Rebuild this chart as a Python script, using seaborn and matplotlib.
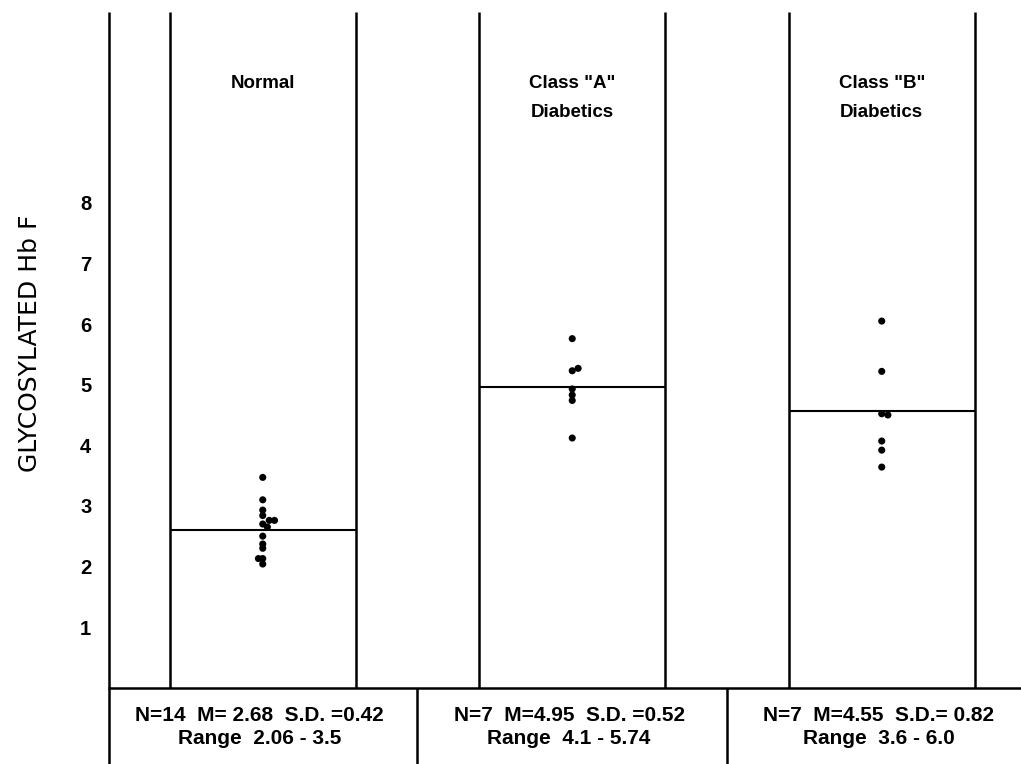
import numpy as np
import pandas as pd
import seaborn as sns
import matplotlib.pyplot as plt

# values
groups = ['Normal', 'Class "A"\nDiabetics', 'Class "B"\nDiabetics']
normal_vals = [3.47, 3.10, 2.93, 2.84, 2.76, 2.76, 2.70, 2.65, 2.50, 2.37, 2.30, 2.13, 2.13, 2.04]
normal_dx = [0, 0, 0, 0, 0.021, 0.038, 0, 0.015, 0, 0, 0, -0.014, 0, 0]
class_a_vals = [5.76, 5.23, 5.27, 4.93, 4.83, 4.74, 4.12]
class_a_dx = [0, 0, 0.019, 0, 0, 0, 0]
class_b_vals = [6.05, 5.22, 4.52, 4.50, 4.07, 3.92, 3.64]
class_b_dx = [0, 0, 0, 0.02, 0, 0, 0]
mean_lines = [2.60, 4.97, 4.57]
stats_text = ['N=14  M= 2.68  S.D. =0.42\nRange  2.06 - 3.5',
              'N=7  M=4.95  S.D. =0.52\nRange  4.1 - 5.74',
              'N=7  M=4.55  S.D.= 0.82\nRange  3.6 - 6.0']
yticks = [1, 2, 3, 4, 5, 6, 7, 8]

rows = []
for i, (vals, dx) in enumerate([(normal_vals, normal_dx),
                                 (class_a_vals, class_a_dx),
                                 (class_b_vals, class_b_dx)]):
    for v, d in zip(vals, dx):
        rows.append({'group': i, 'xpos': i + d, 'value': v})
df = pd.DataFrame(rows)

sns.set_style("white")
plt.rcParams['font.family'] = ['Liberation Sans', 'DejaVu Sans']
plt.rcParams['text.color'] = 'black'
plt.rcParams['ytick.color'] = 'black'

fig = plt.figure(figsize=(10.21, 7.64), dpi=100)
ax = fig.add_axes([108 / 1021, 0, 913 / 1021, 1])
ax.set_xlim(-0.5, 2.45)
ax.set_ylim(-1.261, 11.35)
for s in ax.spines.values():
    s.set_visible(False)

sns.scatterplot(data=df, x='xpos', y='value', color='black', s=26,
                edgecolor='none', legend=False, ax=ax)

top = 11.15
half = 0.30
lw = 1.8
# left axis line
ax.vlines(-0.5 + 0.003, -1.3, top, color='black', lw=lw)
# baseline and table
ax.hlines(0, -0.5, 2.45, color='black', lw=lw)
ax.vlines([0.5, 1.5], -1.3, 0, color='black', lw=lw)
for i, g in enumerate(groups):
    ax.vlines([i - half, i + half], 0, top, color='black', lw=lw)
    ax.hlines(mean_lines[i], i - half, i + half, color='black', lw=1.5)
    ax.text(i, 10.12, g, ha='center', va='top', fontsize=13.5,
            fontweight='bold', linespacing=1.95)
    ax.text(i - 0.01, -0.65, stats_text[i], ha='center', va='center',
            fontsize=15, fontweight='bold', linespacing=1.25)

ax.set_xticks([])
ax.set_yticks(yticks)
ax.set_yticklabels([str(t) for t in yticks], fontsize=14.5, fontweight='bold')
ax.tick_params(axis='y', length=0, pad=12)
ax.set_xlabel('')
ax.set_ylabel('')

fig.text(30 / 1021, 1 - 343 / 764, 'GLYCOSYLATED Hb F', rotation=90,
         ha='center', va='center', fontsize=18, family='DejaVu Sans')

fig.savefig('out.png', dpi=100)
